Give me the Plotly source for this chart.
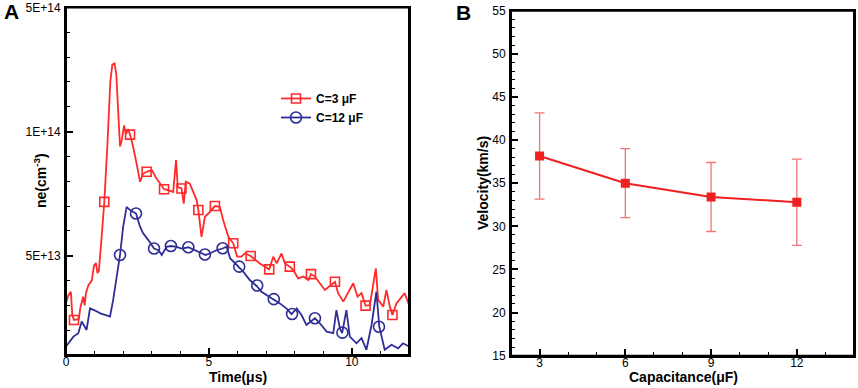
import plotly.graph_objects as go

# ---------------- Panel A data (ne in units of 1E13 cm^-3) ----------------
t_red = [0, 0.08, 0.17, 0.22, 0.28, 0.45, 0.5, 0.6, 0.65, 0.7, 0.78, 0.9, 0.98, 1.05, 1.1, 1.15, 1.25,
         1.34, 1.45, 1.55, 1.62, 1.7, 1.76, 1.83, 1.89, 1.95, 2.03, 2.1, 2.17, 2.24, 2.35, 2.47, 2.59,
         2.7, 2.82, 3.0, 3.17, 3.3, 3.43, 3.58, 3.75, 3.85, 3.91, 4.04, 4.12, 4.19, 4.33, 4.45, 4.57,
         4.63, 4.74, 4.86, 4.98, 5.21, 5.38, 5.5, 5.68, 5.85, 5.99, 6.14, 6.26, 6.46, 6.61, 6.78, 7.11,
         7.25, 7.37, 7.54, 7.66, 7.83, 7.95, 8.12, 8.3, 8.48, 8.57, 8.71, 8.88, 9.06, 9.41, 9.52, 9.7,
         9.87, 10.05, 10.2, 10.34, 10.48, 10.63, 10.84, 10.92, 11.1, 11.21, 11.33, 11.42, 11.56, 11.85, 12.0]
ne_red = [3.1, 3.4, 3.55, 2.6, 2.41, 2.45, 2.9, 3.35, 3.0, 3.5, 3.8, 4.0, 4.6, 4.7, 4.3, 4.4, 5.8,
          7.17, 9.5, 12.0, 12.7, 12.75, 12.3, 11.0, 9.4, 9.65, 10.25, 9.9, 10.1, 9.88, 9.38, 8.71, 7.98,
          8.31, 8.38, 8.45, 8.1, 7.9, 7.68, 7.64, 7.57, 8.85, 7.76, 7.71, 7.1, 7.98, 7.9, 7.57, 7.24,
          6.84, 5.76, 6.57, 6.7, 7.0, 6.97, 6.43, 5.76, 5.5, 4.96, 4.96, 5.1, 4.99, 4.83, 4.69, 4.45,
          4.96, 4.69, 5.09, 4.69, 4.56, 4.42, 4.09, 4.16, 4.02, 4.26, 4.16, 3.89, 3.62, 3.95, 3.49, 3.15,
          3.49, 3.89, 3.35, 3.49, 2.99, 3.01, 4.49, 3.22, 2.95, 3.62, 2.95, 2.61, 3.08, 3.49, 3.02]
t_red_mk = [0.28, 1.34, 2.24, 2.82, 3.43, 4.04, 4.63, 5.21, 5.85, 6.46, 7.11, 7.83, 8.57, 9.41, 10.48, 11.42]
ne_red_mk = [2.41, 7.17, 9.88, 8.38, 7.68, 7.71, 6.84, 7.0, 5.5, 4.99, 4.45, 4.56, 4.26, 3.95, 2.99, 2.61]

t_blue = [0, 0.1, 0.26, 0.43, 0.55, 0.72, 0.84, 1.0, 1.2, 1.42, 1.54, 1.65, 1.77, 1.89, 2.0, 2.12, 2.24,
          2.45, 2.59, 2.7, 2.88, 3.08, 3.24, 3.35, 3.52, 3.67, 3.87, 4.04, 4.28, 4.51, 4.88, 5.03, 5.26,
          5.48, 5.62, 5.74, 6.05, 6.2, 6.43, 6.67, 6.84, 7.02, 7.25, 7.48, 7.71, 7.89, 8.07, 8.24, 8.41,
          8.71, 8.88, 9.12, 9.35, 9.46, 9.58, 9.66, 9.81, 9.93, 10.16, 10.34, 10.51, 10.69, 10.86, 10.96,
          11.15, 11.39, 11.62, 11.79, 12.0]
ne_blue = [1.34, 1.5, 1.74, 1.88, 2.35, 2.01, 2.88, 2.8, 2.68, 2.6, 2.55, 3.22, 4.16, 5.03, 6.17, 6.97, 6.84,
           6.7, 6.17, 5.9, 5.63, 5.29, 5.22, 5.03, 5.36, 5.39, 5.36, 5.29, 5.34, 5.22, 5.03, 5.09, 5.22,
           5.29, 5.36, 4.9, 4.56, 4.36, 4.02, 3.78, 3.55, 3.42, 3.24, 3.08, 2.88, 2.65, 2.88, 2.61, 2.21,
           2.48, 2.28, 1.94, 1.88, 2.81, 2.08, 1.88, 2.81, 1.74, 1.47, 1.68, 1.21, 2.21, 3.55, 2.14,
           1.21, 1.41, 1.27, 1.47, 1.34]
t_blue_mk = [1.89, 2.45, 3.08, 3.67, 4.28, 4.86, 5.48, 6.06, 6.69, 7.27, 7.91, 8.71, 9.67, 10.95]
ne_blue_mk = [5.03, 6.7, 5.29, 5.39, 5.34, 5.05, 5.3, 4.56, 3.8, 3.25, 2.65, 2.48, 1.9, 2.14]

ne_tickvals = [5, 10, 15]
ne_ticktext = ["5E+13", "1E+14", "5E+14"]
time_ticks = [0, 5, 10]

# ---------------- Panel B data ----------------
capacitance = [3, 6, 9, 12]
velocity = [38.15, 35.0, 33.4, 32.8]
vel_err = [5.0, 4.0, 4.0, 5.0]
cap_ticks = [3, 6, 9, 12]
vel_ticks = [15, 20, 25, 30, 35, 40, 45, 50, 55]

RED = "#ff2a2a"
BLUE = "#2e2e96"
FONT = "Liberation Sans, Arial, sans-serif"

W, H = 858, 388
def PX(px):
    return min(max(px / W, 0), 1)
def PY(py):
    return min(max(1 - py / H, 0), 1)

fig = go.Figure()

# Panel A
fig.add_trace(go.Scatter(x=t_red, y=ne_red, mode="lines", line=dict(color=RED, width=1.8),
                         showlegend=False, hoverinfo="skip", xaxis="x", yaxis="y"))
fig.add_trace(go.Scatter(x=t_red_mk, y=ne_red_mk, mode="markers",
                         marker=dict(symbol="square-open", size=9, color=RED, line=dict(width=1.6)),
                         showlegend=False, xaxis="x", yaxis="y"))
fig.add_trace(go.Scatter(x=t_blue, y=ne_blue, mode="lines", line=dict(color=BLUE, width=1.8),
                         showlegend=False, hoverinfo="skip", xaxis="x", yaxis="y"))
fig.add_trace(go.Scatter(x=t_blue_mk, y=ne_blue_mk, mode="markers",
                         marker=dict(symbol="circle-open", size=11, color=BLUE, line=dict(width=1.6)),
                         showlegend=False, xaxis="x", yaxis="y"))
# legend entries
fig.add_trace(go.Scatter(x=[None], y=[None], mode="lines+markers", name="<b>C=3 \u03bcF</b>",
                         line=dict(color=RED, width=1.8),
                         marker=dict(symbol="square-open", size=9, color=RED, line=dict(width=1.6)),
                         xaxis="x", yaxis="y"))
fig.add_trace(go.Scatter(x=[None], y=[None], mode="lines+markers", name="<b>C=12 \u03bcF</b>",
                         line=dict(color=BLUE, width=1.8),
                         marker=dict(symbol="circle-open", size=11, color=BLUE, line=dict(width=1.6)),
                         xaxis="x", yaxis="y"))

# Panel B
fig.add_trace(go.Scatter(x=capacitance, y=velocity, mode="lines+markers",
                         line=dict(color="#f02020", width=2),
                         marker=dict(symbol="square", size=9, color="#f02020"),
                         error_y=dict(type="data", array=vel_err, visible=True,
                                      color="rgba(240,70,70,0.75)", thickness=1.3, width=5),
                         showlegend=False, xaxis="x2", yaxis="y2"))

# invisible traces to create the minor-tick overlay subplots
fig.add_trace(go.Scatter(x=[0], y=[1], mode="markers", marker=dict(opacity=0), showlegend=False,
                         hoverinfo="skip", xaxis="x3", yaxis="y3"))
fig.add_trace(go.Scatter(x=[3], y=[20], mode="markers", marker=dict(opacity=0), showlegend=False,
                         hoverinfo="skip", xaxis="x4", yaxis="y4"))

major = dict(showline=True, linecolor="#000000", linewidth=2, mirror=True,
             ticks="inside", tickcolor="#000000", tickwidth=1.5, ticklen=7,
             showgrid=False, zeroline=False, automargin=False, layer="above traces",
             ticklabeloverflow="allow",
             tickfont=dict(family=FONT, size=12, color="black"))
minor = dict(showline=False, ticks="inside", tickcolor="#000000", tickwidth=1, ticklen=4,
             showgrid=False, zeroline=False, showticklabels=False, tickmode="linear",
             tick0=0, dtick=1, automargin=False)

fig.update_layout(
    width=W, height=H,
    margin=dict(l=0, r=0, t=0, b=0, autoexpand=False),
    paper_bgcolor="white", plot_bgcolor="white",
    font=dict(family=FONT, color="black"),
    xaxis=dict(domain=[PX(66), PX(409)], range=[0, 12], tickmode="array", tickvals=time_ticks,
               anchor="y", ticklabelstandoff=-5, **major),
    yaxis=dict(domain=[PY(355), PY(7.5)], range=[1, 15], tickmode="array",
               tickvals=ne_tickvals, ticktext=ne_ticktext, anchor="x", ticklabelstandoff=1, **major),
    xaxis2=dict(domain=[PX(511), PX(854)], range=[2, 14], tickmode="array", tickvals=cap_ticks,
                anchor="y2", ticklabelstandoff=-5, **major),
    yaxis2=dict(domain=[PY(355.7), PY(10.7)], range=[15, 55], tickmode="array",
                tickvals=vel_ticks, anchor="x2", ticklabelstandoff=1, **major),
    xaxis3=dict(overlaying="x", anchor="y3", side="bottom", range=[0, 12], **minor),
    yaxis3=dict(overlaying="y", anchor="x3", side="left", range=[1, 15], **minor),
    xaxis4=dict(overlaying="x2", anchor="y4", side="bottom", range=[2, 14], **minor),
    yaxis4=dict(overlaying="y2", anchor="x4", side="left", range=[15, 55], **minor),
    legend=dict(x=PX(276), y=PY(84), xanchor="left", yanchor="top",
                bgcolor="rgba(0,0,0,0)", font=dict(family=FONT, size=12, color="black"),
                tracegroupgap=0),
    shapes=[
        dict(type="rect", xref="x domain", yref="y domain", x0=0, x1=1, y0=0, y1=1,
             line=dict(color="black", width=2), layer="above"),
        dict(type="rect", xref="x2 domain", yref="y2 domain", x0=0, x1=1, y0=0, y1=1,
             line=dict(color="black", width=2), layer="above"),
    ],
)

ann = [
    dict(text="<b>A</b>", x=PX(2), y=PY(11), xanchor="left", yanchor="middle", font=dict(size=21)),
    dict(text="<b>B</b>", x=PX(454), y=PY(13), xanchor="left", yanchor="middle", font=dict(size=21)),
    dict(text="<b>ne(cm<sup>-3</sup>)</b>", x=PX(40), y=PY(181), textangle=-90,
         xanchor="center", yanchor="middle", font=dict(size=14)),
    dict(text="<b>Time(\u03bcs)</b>", x=PX(238), y=PY(377), xanchor="center", yanchor="middle",
         font=dict(size=14)),
    dict(text="<b>Velocity(km/s)</b>", x=PX(483), y=PY(183), textangle=-90,
         xanchor="center", yanchor="middle", font=dict(size=14)),
    dict(text="<b>Capacitance(\u03bcF)</b>", x=PX(683), y=PY(377), xanchor="center", yanchor="middle",
         font=dict(size=14)),
]
for a in ann:
    a.update(xref="paper", yref="paper", showarrow=False)
    a["font"].update(family=FONT, color="black")
fig.update_layout(annotations=ann)

# remove the default 8px page margin so the 858x388 figure fills the window exactly
fig.write_html("out.html", config={"displayModeBar": False},
               post_script="document.body.style.margin='0px';")
